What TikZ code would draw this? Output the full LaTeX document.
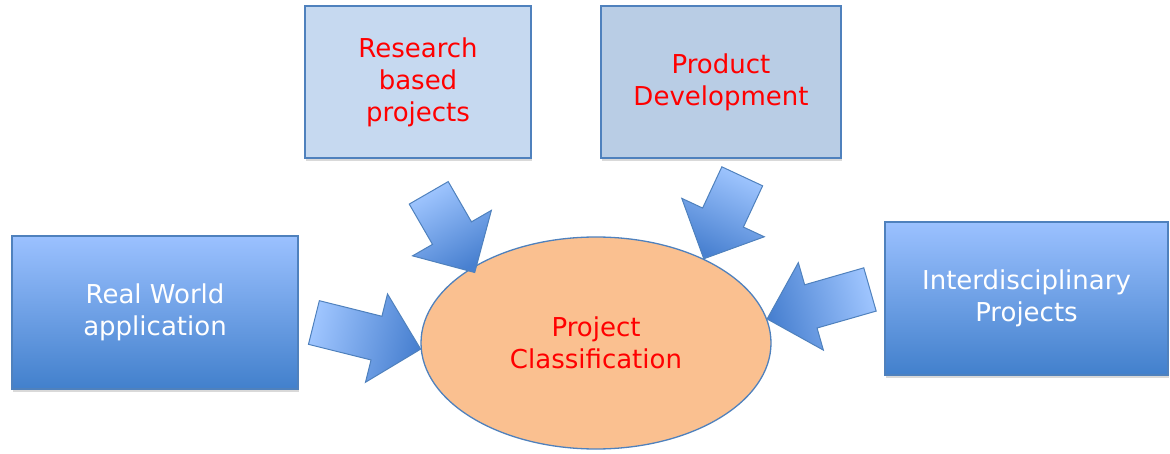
\documentclass[tikz,border=0pt]{standalone}
\usepackage{fontspec}
\setmainfont{DejaVu Sans}
\usetikzlibrary{shapes.arrows,shapes.geometric,shadows}
\definecolor{edgeblue}{RGB}{79,129,189}
\definecolor{palebox}{RGB}{198,217,240}
\definecolor{greybox}{RGB}{185,205,229}
\definecolor{toplight}{RGB}{155,193,255}
\definecolor{botdark}{RGB}{66,128,204}
\definecolor{arrlight}{RGB}{160,198,255}
\definecolor{arrdark}{RGB}{72,128,208}
\definecolor{peach}{RGB}{250,192,144}
\tikzset{
  boxtext/.style={font=\fontsize{26}{32}\selectfont, align=center},
  flatbox/.style={boxtext, draw=edgeblue, line width=1.3pt, text=red,
    minimum height=152pt, drop shadow={shadow xshift=1pt, shadow yshift=-3pt, opacity=.3}},
  shadebox/.style={boxtext, draw=edgeblue, line width=1.3pt, text=white,
    top color=toplight, bottom color=botdark, minimum height=153pt,
    drop shadow={shadow xshift=1pt, shadow yshift=-3pt, opacity=.3}},
  blockarrow/.style={single arrow, draw=edgeblue, line width=1pt, anchor=tip,
    inner xsep=0pt, inner ysep=22pt, outer sep=0pt, single arrow head extend=23pt,
    left color=arrlight, right color=arrdark, rotate=#1, shading angle=90+#1}
}
\begin{document}
\begin{tikzpicture}[x=1pt,y=1pt]
\useasboundingbox (0,0) rectangle (1170,453);
% centre
\node[ellipse, draw=edgeblue, line width=1.3pt, fill=peach, minimum width=350pt, minimum height=212pt,
  boxtext, text=red, inner sep=0pt] (cls) at (596,110) {Project\\Classification};
% boxes round it
\node[flatbox, fill=palebox, minimum width=226pt] (research) at (418,371) {Research\\based\\projects};
\node[flatbox, fill=greybox, minimum width=240pt] (product) at (721,371) {Product\\Development};
\node[shadebox, minimum width=286pt] (realworld) at (155,140.5) {Real World\\application};
\node[shadebox, minimum width=283pt] (inter) at (1026.5,154.5) {Interdisciplinary\\Projects};
% block arrows
\node[blockarrow=-14, minimum height=110pt] (arrreal) at (cls.182) {};
\node[blockarrow=-60, minimum height=92pt] (arrresearch) at ([shift={(6,-3)}]cls.150) {};
\node[blockarrow=-115, minimum height=91pt] (arrproduct) at (cls.38) {};
\node[blockarrow=196, minimum height=107pt] (arrinter) at (cls.8) {};
\end{tikzpicture}
\end{document}
